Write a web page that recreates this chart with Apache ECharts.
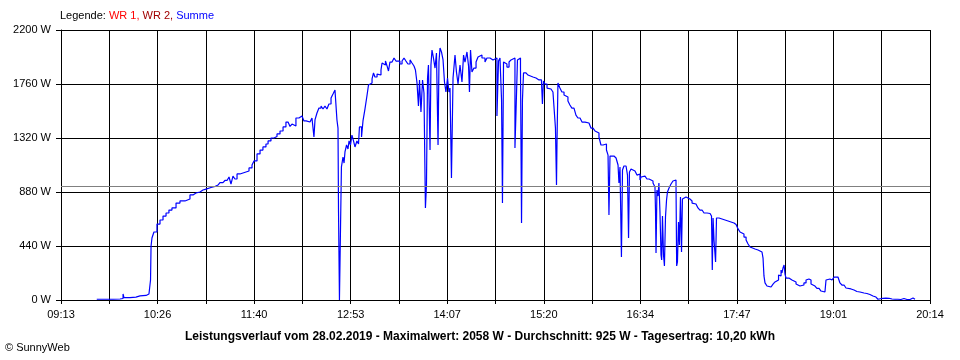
<!DOCTYPE html>
<html><head><meta charset="utf-8">
<script src="https://cdn.jsdelivr.net/npm/echarts@6/dist/echarts.min.js"></script>
<style>html,body{margin:0;padding:0;background:#fff}#c{width:960px;height:360px}</style>
</head><body><div id="c"></div>
<script>
// x tick labels (every second gridline carries a label)
const xLabels = ['09:13','10:26','11:40','12:53','14:07','15:20','16:34','17:47','19:01','20:14'];
const startMin = 553;   // 09:13 in minutes of day
const endMin = 1214;    // 20:14
const yMax = 2200, yStep = 440;
const avgW = 925;
const legendParts = ['Legende: ', 'WR 1, ', 'WR 2, ', 'Summe'];
const footer = 'Leistungsverlauf vom 28.02.2019 - Maximalwert: 2058 W - Durchschnitt: 925 W - Tagesertrag: 10,20 kWh';
// [minute of day, W] for "Summe"
const summe = [
[580.2,6],[592.6,8],[597.9,12],[600.2,49],[600.9,20],[605.5,24],[610.0,33],[613.1,37],[617.7,49],[619.9,65],
[621.1,163],[621.5,440],[622.2,505],[623.7,554],[626.0,619],[628.3,652],[630.6,684],[632.9,709],[635.1,733],[637.4,750],
[640.5,790],[643.5,807],[647.3,823],[651.1,856],[653.4,872],[655.7,880],[658.7,896],[661.0,904],[663.3,900],[664.8,917],
[667.1,925],[670.1,937],[672.4,945],[673.9,957],[676.2,949],[677.7,974],[679.3,970],[680.8,1002],[682.3,945],[683.8,1010],
[685.3,986],[686.9,1027],[689.1,1035],[691.4,1043],[693.7,1051],[696.0,1076],[698.3,1100],[699.8,1133],[702.1,1190],[704.4,1222],
[706.6,1247],[708.9,1271],[710.5,1296],[712.7,1320],[715.0,1332],[717.3,1353],[719.6,1377],[721.9,1410],[724.1,1450],[725.7,1434],
[727.2,1414],[728.7,1434],[730.2,1418],[731.7,1483],[734.0,1499],[736.3,1483],[737.8,1459],[739.4,1475],[740.9,1450],[742.4,1459],
[743.9,1483],[745.4,1328],[746.2,1467],[747.7,1524],[749.2,1564],[750.8,1581],[752.3,1556],[753.8,1581],[755.3,1556],[756.8,1597],
[758.4,1646],[759.9,1678],[761.4,1711],[762.2,1727],[762.9,1467],[763.7,1401],[764.1,717],[764.8,0],[765.6,0],[766.3,1084],
[767.5,1165],[768.3,1116],[769.0,1206],[770.2,1263],[771.3,1230],[772.1,1296],[773.2,1263],[774.3,1344],[775.5,1296],[776.6,1247],
[778.1,1296],[779.3,1271],[780.0,1410],[781.6,1328],[782.7,1459],[784.2,1556],[785.7,1662],[786.9,1752],[788.0,1768],[789.6,1801],
[790.7,1850],[791.8,1817],[793.4,1841],[794.9,1833],[796.4,1874],[797.2,1931],[798.7,1915],[799.8,1947],[801.0,1907],[802.1,1866],
[803.2,1939],[804.8,1939],[806.3,1972],[807.8,1947],[809.3,1947],[810.8,1923],[812.4,1947],[813.9,1972],[815.4,1947],[816.9,1923],
[818.5,1956],[820.0,1931],[821.5,1907],[822.6,1874],[823.8,1768],[824.9,1581],[825.7,1793],[826.8,1532],[828.0,1793],[829.1,1687],
[830.2,750],[831.0,937],[831.8,1809],[832.5,1915],[833.7,1222],[834.4,1915],[835.2,2037],[836.3,1972],[837.5,1890],[838.6,2013],
[839.8,1263],[840.5,1939],[841.3,2053],[842.4,2021],[843.6,1956],[844.7,1776],[845.8,1695],[847.0,1809],[848.1,1695],[848.9,1727],
[850.0,994],[851.2,1809],[852.7,1996],[853.8,1858],[855.0,1760],[856.5,1915],[858.0,1776],[859.2,1996],[860.3,1939],[861.8,2021],
[863.0,1907],[863.7,1695],[864.5,2037],[865.6,1858],[867.1,1890],[868.7,1939],[870.2,1980],[871.7,1996],[873.2,1972],[875.5,1939],
[877.0,1972],[879.3,1956],[881.6,1947],[883.1,1972],[884.6,1499],[885.8,1947],[886.9,1972],[888.1,1630],[888.8,790],[889.6,1939],
[890.7,1923],[892.2,1898],[893.8,1939],[895.3,1956],[896.8,1972],[898.3,1238],[899.1,1532],[900.2,1956],[901.4,1972],[902.5,1890],
[903.3,627],[904.0,1630],[904.8,1850],[906.7,1850],[908.2,1833],[909.7,1817],[912.0,1809],[914.3,1793],[916.6,1793],[918.5,1776],
[919.2,1597],[920.0,1784],[921.1,1760],[922.7,1727],[924.2,1719],[925.7,1703],[927.2,1695],[928.7,1687],[929.1,1401],[929.9,937],
[930.3,1304],[931.0,1768],[932.5,1727],[934.0,1695],[935.6,1670],[937.1,1654],[938.6,1621],[940.1,1589],[941.6,1564],[943.2,1548],
[944.7,1507],[946.2,1483],[947.8,1475],[949.3,1450],[951.6,1459],[953.1,1442],[954.6,1426],[956.1,1401],[957.7,1393],[959.2,1377],
[960.7,1361],[962.2,1328],[963.7,1263],[965.3,1255],[966.8,1271],[967.9,1222],[969.1,1181],[969.8,693],[970.6,1173],[972.1,1173],
[973.6,1157],[975.2,1141],[976.7,1100],[977.4,953],[978.2,1084],[979.3,350],[980.1,1059],[981.2,1092],[982.8,1084],[983.9,1018],
[984.7,505],[985.4,1043],[986.6,1067],[988.1,1051],[989.6,1035],[991.1,1018],[992.6,1027],[993.4,978],[994.2,1002],[995.7,1010],
[997.2,1002],[998.7,986],[1000.3,978],[1001.8,970],[1003.3,953],[1004.8,921],[1005.2,733],[1005.6,383],[1006.3,896],[1007.1,847],
[1007.8,953],[1008.6,717],[1009.4,367],[1009.9,326],[1010.5,684],[1011.3,367],[1012.0,277],[1012.8,676],[1013.6,815],[1014.3,880],
[1015.5,913],[1017.0,945],[1018.5,970],[1020.0,978],[1020.8,945],[1021.3,277],[1021.9,310],[1022.7,636],[1023.4,448],[1024.2,839],
[1025.0,391],[1025.7,823],[1026.9,839],[1028.4,835],[1029.9,823],[1031.4,807],[1033.0,790],[1034.5,782],[1036.0,766],[1037.5,750],
[1039.0,733],[1040.6,725],[1042.1,709],[1044.4,705],[1046.7,693],[1047.8,684],[1048.4,244],[1049.0,668],[1049.7,489],[1050.9,310],
[1051.6,668],[1053.5,660],[1055.8,652],[1058.1,644],[1060.4,636],[1062.6,627],[1064.9,615],[1066.5,603],[1068.0,579],[1069.5,554],
[1071.0,538],[1072.5,513],[1074.1,489],[1075.6,456],[1077.1,432],[1078.6,416],[1080.9,407],[1083.2,407],[1084.7,391],[1086.2,383],
[1087.0,342],[1087.7,196],[1088.5,139],[1090.0,114],[1091.5,106],[1093.1,122],[1094.6,130],[1096.1,147],[1097.6,163],[1098.8,204],
[1099.9,196],[1100.7,244],[1101.4,220],[1102.2,261],[1103.0,285],[1103.7,212],[1104.5,179],[1106.7,163],[1109.0,155],[1110.5,147],
[1112.1,130],[1113.6,114],[1115.1,110],[1116.6,122],[1118.1,139],[1119.7,163],[1121.2,171],[1121.9,163],[1123.5,130],[1125.0,114],
[1126.5,106],[1128.0,94],[1129.6,81],[1131.1,73],[1132.6,65],[1134.1,61],[1134.9,163],[1136.4,171],[1137.9,163],[1139.5,167],
[1141.0,187],[1142.5,187],[1144.0,171],[1145.5,139],[1147.0,122],[1148.6,106],[1150.1,98],[1151.6,90],[1153.9,81],[1156.2,69],
[1158.4,65],[1160.7,57],[1163.8,53],[1166.0,45],[1168.3,33],[1170.6,24],[1172.9,12],[1174.4,6],[1175.9,14],[1178.2,16],
[1180.5,14],[1182.8,8],[1185.1,6],[1187.4,6],[1189.6,4],[1191.9,4],[1193.4,12],[1194.2,4],[1196.5,4],[1198.8,6],
[1199.9,16],[1201.1,12],[1202.6,6]
];

const nSteps = (xLabels.length - 1) * 2;           // gridlines (labels on every second one)
const stepMin = (endMin - startMin) / nSteps;
const lineData = summe.map(p => [(p[0] - startMin) / stepMin, p[1]]);

const FONT = '"Liberation Sans", Arial, sans-serif';
const chart = echarts.init(document.getElementById('c'), null, {renderer: 'canvas'});
chart.setOption({
  animation: false,
  backgroundColor: '#ffffff',
  title: [
    {
      left: 60, top: 10, padding: 0,
      text: '{a|' + legendParts[0] + '}{b|' + legendParts[1] + '}{c|' + legendParts[2] + '}{d|' + legendParts[3] + '}',
      textStyle: {
        fontSize: 11, fontFamily: FONT, fontWeight: 'normal',
        rich: {
          a: {color: '#000000', fontSize: 11, fontFamily: FONT},
          b: {color: '#ff0000', fontSize: 11, fontFamily: FONT},
          c: {color: '#a00000', fontSize: 11, fontFamily: FONT},
          d: {color: '#0000ff', fontSize: 11, fontFamily: FONT}
        }
      }
    },
    {
      left: 'center', top: 331, padding: 0, text: footer,
      textStyle: {fontSize: 12, fontWeight: 'bold', color: '#000000', fontFamily: FONT}
    },
    {
      left: 5, top: 342, padding: 0, text: '\u00A9 SunnyWeb',
      textStyle: {fontSize: 11, fontWeight: 'normal', color: '#000000', fontFamily: FONT}
    }
  ],
  grid: {left: 61, right: 30, top: 30, bottom: 60, containLabel: false},
  xAxis: {
    type: 'value', min: 0, max: nSteps, interval: 1,
    axisLine: {show: true, lineStyle: {color: '#000', width: 1}},
    axisTick: {show: true, length: 4, lineStyle: {color: '#000', width: 1}},
    splitLine: {show: true, lineStyle: {color: '#000', width: 1}},
    axisLabel: {
      color: '#000', fontSize: 11, fontFamily: FONT, margin: 9,
      showMinLabel: true, showMaxLabel: true, hideOverlap: false,
      formatter: v => { const i = Math.round(v); return i % 2 === 0 ? xLabels[i / 2] : ''; }
    }
  },
  yAxis: {
    type: 'value', min: 0, max: yMax, interval: yStep,
    axisLine: {show: true, lineStyle: {color: '#000', width: 1}},
    axisTick: {show: true, length: 5, lineStyle: {color: '#000', width: 1}},
    splitLine: {show: true, lineStyle: {color: '#000', width: 1}},
    axisLabel: {color: '#000', fontSize: 11, fontFamily: FONT, margin: 10, formatter: v => v + ' W'}
  },
  series: [{
    type: 'line', data: lineData, symbol: 'none', showSymbol: false, step: 'end',
    lineStyle: {color: '#0000ff', width: 1.2},
    markLine: {
      silent: true, symbol: ['none', 'none'], label: {show: false},
      lineStyle: {color: '#808080', type: 'solid', width: 1},
      data: [{yAxis: avgW}]
    },
    z: 3
  }]
});
</script></body></html>
